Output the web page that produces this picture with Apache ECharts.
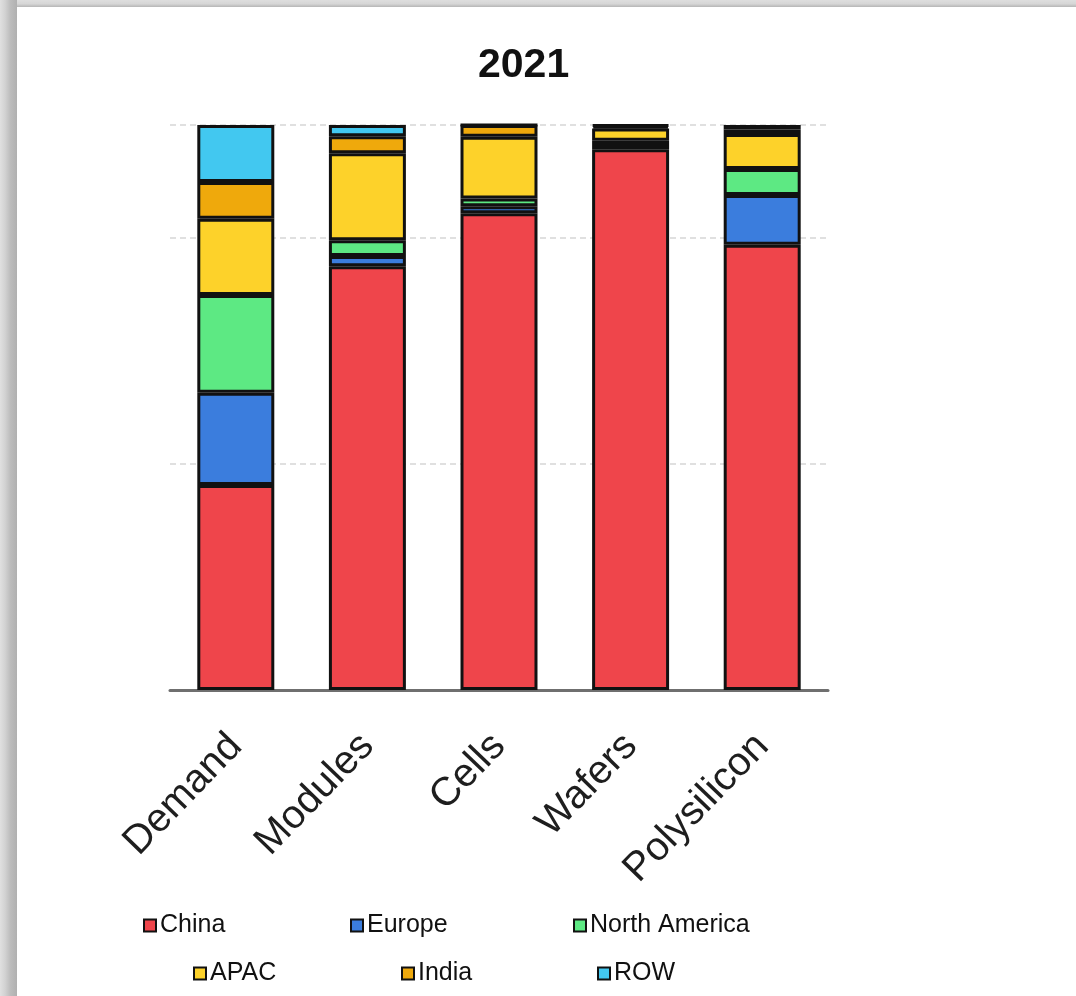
<!DOCTYPE html>
<html>
<head>
<meta charset="utf-8">
<script src="https://cdn.jsdelivr.net/npm/echarts@6/dist/echarts.min.js"></script>
<style>
  html, body { margin: 0; padding: 0; background: #ffffff; }
  #chart { position: absolute; left: 0; top: 0; width: 1076px; height: 996px; }
  .edge { position: absolute; pointer-events: none; }
  #edgeTop { left: 0; top: 0; width: 1076px; height: 7px; background: linear-gradient(to bottom, #dedede 0%, #d6d6d6 55%, #b6b6b6 100%); }
  #edgeLeft { left: 0; top: 0; width: 17px; height: 996px; background: linear-gradient(to right, #e0e0e0 0%, #d2d2d2 30%, #bdbdbd 60%, #b0b0b0 100%); }
</style>
</head>
<body>
<div id="chart"></div>
<div class="edge" id="edgeTop"></div>
<div class="edge" id="edgeLeft"></div>
<script>
// Share of each value-chain stage by region, 2021 (percent)
const categories = ['Demand', 'Modules', 'Cells', 'Wafers', 'Polysilicon'];
const china        = [36.3, 75.0, 84.4, 95.7, 78.8];
const europe       = [16.3,  1.8,  1.2,  0.6,  8.8];
const northAmerica = [17.3,  2.8,  1.4,  0.9,  4.6];
const apac         = [13.5, 15.4, 10.9,  2.2,  6.2];
const india        = [ 6.5,  3.0,  2.1,  0.4,  0.8];
const rowShare     = [10.1,  2.0,  0.0,  0.2,  0.8];

const seriesDefs = [
  { name: 'China',         data: china,        color: '#ef454b' },
  { name: 'Europe',        data: europe,       color: '#3b7ddd' },
  { name: 'North America', data: northAmerica, color: '#5de983' },
  { name: 'APAC',          data: apac,         color: '#fdd22a' },
  { name: 'India',         data: india,        color: '#efa90c' },
  { name: 'ROW',           data: rowShare,     color: '#42c8f0' }
];

// legend slots: two rows of three
const legendSlots = [
  { left: 143, top: 913 }, { left: 350, top: 913 }, { left: 573, top: 913 },
  { left: 193, top: 961 }, { left: 401, top: 961 }, { left: 597, top: 961 }
];

const FONT = '"Liberation Sans", Arial, sans-serif';

const chart = echarts.init(document.getElementById('chart'), null, { renderer: 'canvas' });

chart.setOption({
  backgroundColor: '#ffffff',
  animation: false,
  title: {
    text: '2021',
    left: 473,
    top: 40,
    textStyle: { fontFamily: FONT, fontSize: 41, fontWeight: 'bold', color: '#111111' }
  },
  legend: seriesDefs.map((s, i) => ({
    data: [s.name],
    left: legendSlots[i].left,
    top: legendSlots[i].top,
    padding: 0,
    icon: 'rect',
    itemWidth: 12,
    itemHeight: 12,
    itemGap: 5,
    selectedMode: false,
    itemStyle: { borderColor: '#111111', borderWidth: 2 },
    textStyle: { fontFamily: FONT, fontSize: 25, color: '#111111', padding: [0, 0, 0, -1] }
  })),
  grid: { left: 170, right: 248, top: 125, bottom: 306, containLabel: false },
  xAxis: {
    type: 'category',
    data: categories,
    axisLine: { show: true, lineStyle: { color: '#6f6f6f', width: 3 } },
    axisTick: { show: false },
    axisLabel: {
      rotate: 46,
      margin: 50,
      interval: 0,
      fontFamily: FONT,
      fontSize: 40,
      color: '#1e1e1e'
    }
  },
  yAxis: {
    type: 'value',
    min: 0,
    max: 100,
    interval: 40,
    axisLine: { show: false },
    axisTick: { show: false },
    axisLabel: { show: false },
    splitLine: { show: true, lineStyle: { color: '#d6d6d6', width: 1.5, type: [6, 4] } }
  },
  series: seriesDefs.map(s => ({
    name: s.name,
    type: 'bar',
    stack: 'share',
    barWidth: '58.5%',
    data: s.data,
    itemStyle: { color: s.color, borderColor: '#111111', borderWidth: 3 }
  }))
});
</script>
</body>
</html>
